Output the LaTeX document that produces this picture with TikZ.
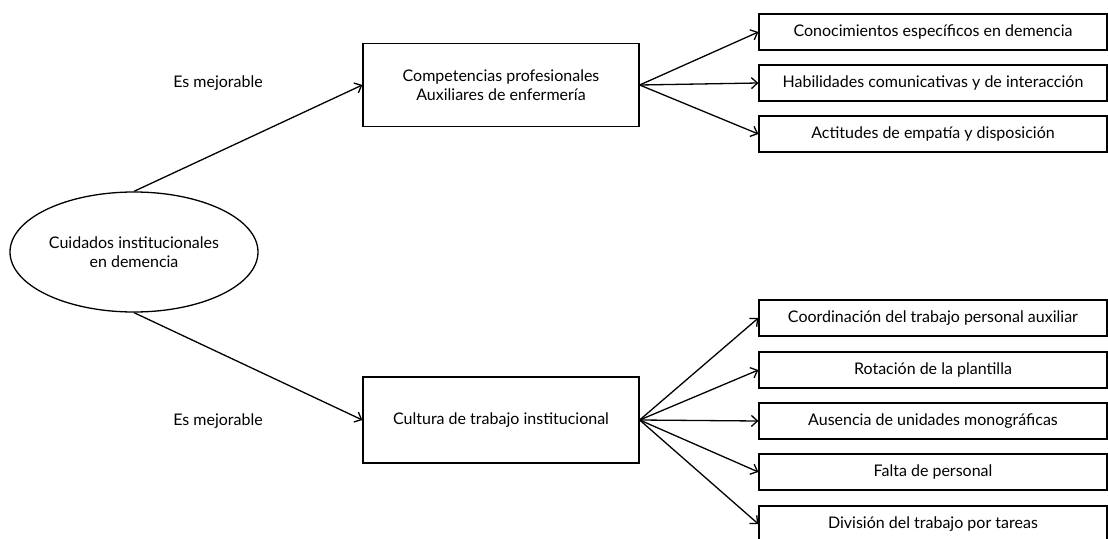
\documentclass[tikz,border=0pt]{standalone}
\usepackage{fontspec}
\setmainfont{Lato}
\usetikzlibrary{arrows.meta,shapes.geometric}
\begin{document}
\begin{tikzpicture}[x=1pt,y=-1pt,
  font=\fontsize{16}{19}\selectfont,
  line width=1.3pt,
  box/.style={draw, rectangle, align=center, inner sep=0pt},
  mid/.style={box, minimum width=276pt},
  leaf/.style={box, minimum width=348pt, minimum height=36pt},
  conn/.style={-{Straight Barb[length=6pt,width=11pt]}},
  lab/.style={inner sep=0pt}]
\clip (0,0) rectangle (1108,538);
\useasboundingbox (0,0) rectangle (1108,538);
\node[draw, ellipse, minimum width=248pt, minimum height=120pt, align=center, inner sep=0pt] (ell) at (134,252) {Cuidados institucionales\\en demencia};
\node[mid, minimum height=83pt] (b1) at (501,85) {Competencias profesionales\\Auxiliares de enfermería};
\node[mid, minimum height=86pt] (b2) at (501,420) {Cultura de trabajo institucional};
\node[lab] (l1) at (218,83) {Es mejorable};
\node[lab] (l2) at (218,421) {Es mejorable};
\node[leaf] (r1) at (933,32) {Conocimientos específicos en demencia};
\node[leaf] (r2) at (933,83) {Habilidades comunicativas y de interacción};
\node[leaf] (r3) at (933,134) {Actitudes de empatía y disposición};
\node[leaf] (s1) at (933,318) {Coordinación del trabajo personal auxiliar};
\node[leaf] (s2) at (933,370) {Rotación de la plantilla};
\node[leaf] (s3) at (933,421) {Ausencia de unidades monográficas};
\node[leaf] (s4) at (933,472) {Falta de personal};
\node[leaf] (s5) at (933,524) {División del trabajo por tareas};
\draw[conn] (ell.north) -- (b1.west);
\draw[conn] (ell.south) -- (b2.west);
\foreach \t in {r1,r2,r3} \draw[conn] (b1.east) -- (\t.west);
\foreach \t in {s1,s2,s3,s4,s5} \draw[conn] (b2.east) -- (\t.west);
\end{tikzpicture}
\end{document}
